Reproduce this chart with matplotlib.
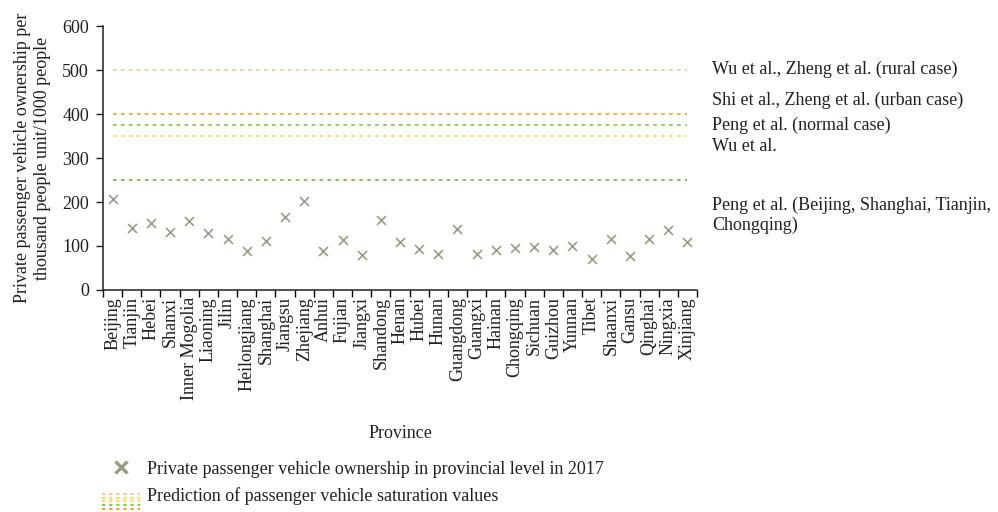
import matplotlib
matplotlib.use("Agg")
import matplotlib.pyplot as plt
from matplotlib.lines import Line2D
from matplotlib.legend_handler import HandlerBase

provinces = ["Beijing", "Tianjin", "Hebei", "Shanxi", "Inner Mogolia", "Liaoning", "Jilin",
             "Heilongjiang", "Shanghai", "Jiangsu", "Zhejiang", "Anhui", "Fujian", "Jiangxi",
             "Shandong", "Henan", "Hubei", "Hunan", "Guangdong", "Guangxi", "Hainan",
             "Chongqing", "Sichuan", "Guizhou", "Yunnan", "Tibet", "Shaanxi", "Gansu",
             "Qinghai", "Ningxia", "Xinjiang"]
ownership = [206, 142, 153, 132, 157, 130, 116, 89, 112, 167, 202, 89, 113, 80, 159,
             110, 93, 82, 139, 81, 92, 96, 98, 91, 100, 70, 117, 77, 117, 137, 108]

sat_values = [500, 400, 375, 350, 250]
sat_colors = ["#F6C7A2", "#F7A43A", "#8CCB4E", "#FCD96A", "#7CC242"]
sat_labels = ["Wu et al., Zheng et al. (rural case)",
              "Shi et al., Zheng et al. (urban case)",
              "Peng et al. (normal case)",
              "Wu et al.",
              "Peng et al. (Beijing, Shanghai, Tianjin,\nChongqing)"]
label_y = [502, 430, 375, 327, 170]

serif = ["Liberation Serif", "DejaVu Serif"]
plt.rcParams["font.family"] = serif
FS = 13
TXT = "#231F20"

fig = plt.figure(figsize=(9.98, 5.12), dpi=100)
ax = fig.add_axes([0.1032, 0.4336, 0.5952, 0.5156])

n = len(provinces)
x = list(range(n))
for v, c in zip(sat_values, sat_colors):
    ax.plot([x[0], x[-1]], [v, v], color=c, lw=1.3, linestyle=(0, (2.0, 2.4)))

ax.scatter(x, ownership, marker="x", s=42, color="#9C9B86", linewidths=1.2, zorder=3)

ax.set_xlim(-0.5, n - 0.5)
ax.set_ylim(0, 600)
ax.set_yticks([0, 100, 200, 300, 400, 500, 600])
ax.set_xticks(x)
ax.set_xticklabels(provinces, rotation=90, fontsize=FS, color=TXT)
ax.set_xticks([i - 0.5 for i in range(n + 1)], minor=True)
ax.tick_params(axis="x", which="major", length=0, pad=5)
ax.tick_params(axis="x", which="minor", length=5, width=1, direction="out")
ax.tick_params(axis="y", labelsize=FS, length=5, width=1, direction="out", colors=TXT, pad=5)
for s in ["top", "right"]:
    ax.spines[s].set_visible(False)
for s in ["left", "bottom"]:
    ax.spines[s].set_linewidth(1.1)
    ax.spines[s].set_color(TXT)

ax.set_xlabel("Province", fontsize=FS, color=TXT, labelpad=18)
ax.set_ylabel("Private passenger vehicle ownership per\nthousand people unit/1000 people",
              fontsize=FS, color=TXT, labelpad=8, linespacing=1.25)

for lab, yv in zip(sat_labels, label_y):
    ax.annotate(lab, xy=(1.0, yv), xycoords=("axes fraction", "data"),
                xytext=(11, 0), textcoords="offset points", va="center", ha="left",
                fontsize=FS, color=TXT, linespacing=1.25, annotation_clip=False)


class StackedDots(HandlerBase):
    def create_artists(self, legend, orig_handle, xdescent, ydescent, width, height, fontsize, trans):
        arts = []
        cols = ["#F6C7A2", "#FCD96A", "#FCD96A", "#8CCB4E", "#F7A43A"]
        nrow = len(cols)
        for i, c in enumerate(cols):
            yy = height * (0.55 - 1.2 * i / (nrow - 1)) - ydescent
            ln = Line2D([-xdescent, -xdescent + width], [yy, yy], color=c, lw=1.6,
                        linestyle=(0, (1.5, 1.7)), transform=trans)
            arts.append(ln)
        return arts


h1 = Line2D([], [], marker="x", linestyle="none", color="#9C9B86", markersize=8,
            markeredgewidth=2.4)
h2 = Line2D([], [])
fig.legend([h1, h2],
           ["Private passenger vehicle ownership in provincial level in 2017",
            "Prediction of passenger vehicle saturation values"],
           handler_map={h2: StackedDots()},
           loc="upper left", bbox_to_anchor=(0.102, 0.1), frameon=False,
           borderpad=0, borderaxespad=0,
           fontsize=FS, handlelength=2.1, handletextpad=0.4, labelspacing=0.5,
           labelcolor=TXT)

fig.savefig("out.png", dpi=100)
